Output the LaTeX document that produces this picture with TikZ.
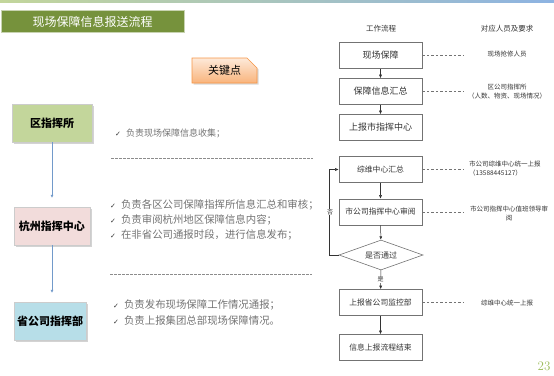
\documentclass[tikz,border=0pt]{standalone}
\usepackage{fontspec}
\newfontfamily\cjk{Noto Sans CJK SC}
\newfontfamily\sym{DejaVu Sans}
\usetikzlibrary{arrows.meta}
\usetikzlibrary{shadows}
\usetikzlibrary{shapes.geometric}
\usetikzlibrary{shapes.misc}
\definecolor{titlegreen}{HTML}{76923C}
\definecolor{zonegreen}{HTML}{C3D69B}
\definecolor{hzpink}{HTML}{F2DCDB}
\definecolor{sgblue}{HTML}{B7DEE8}
\definecolor{keyline}{HTML}{F79646}
\definecolor{keytop}{HTML}{FDE9D9}
\definecolor{keybottom}{HTML}{F9B47C}
\definecolor{unitblue}{HTML}{4F81BD}
\definecolor{pagegreen}{HTML}{9BBB59}
\definecolor{barleft}{HTML}{C3D69B}
\definecolor{barright}{HTML}{8DB3E2}
\newcommand{\chk}{{\sym\fontsize{7}{7}\selectfont\color{black!80}✓}\hspace{5pt}}

\begin{document}
\begin{tikzpicture}[x=1pt, y=-1pt,
  unitbox/.style={minimum height=38pt, inner sep=0pt, draw=white!80!black, line width=0.3pt, font=\cjk\bfseries\fontsize{11}{11}\selectfont, drop shadow={shadow xshift=1.5pt, shadow yshift=-1.5pt, opacity=0.35}},
  unitarrow/.style={-{Latex[length=3pt, width=3pt]}, unitblue!80, line width=0.6pt, shorten >=9pt},
  flowbox/.style={draw=black!55, line width=0.6pt, minimum width=83pt, minimum height=26pt, inner sep=0pt, font=\cjk\fontsize{9}{9}\selectfont, text=black!80},
  smallbox/.style={flowbox, font=\cjk\fontsize{7.8}{7.8}\selectfont},
  flowarrow/.style={-{Latex[length=3.5pt, width=3pt]}, black!80, line width=0.5pt},
  helpline/.style={black!55, line width=0.5pt, dash pattern=on 2.5pt off 2pt},
  note/.style={font=\cjk\fontsize{6.5}{9}\selectfont, text=black!80, inner sep=0pt},
  dutyline/.style={black!45, line width=0.6pt, dash pattern=on 2.5pt off 1.5pt},
  duty/.style={anchor=west, align=left, inner sep=0pt, text=black!55, font=\cjk\fontsize{10.4}{15}\selectfont}]
        \useasboundingbox (0,0) rectangle (554,375);
        \shade [left color=barleft, right color=barright] (0,0) rectangle (554,2);
        \node [fill=titlegreen, draw=titlegreen!40, line width=0.5pt, minimum width=183pt, minimum height=22pt, inner sep=0pt, text=white, font=\cjk\fontsize{12}{12}\selectfont] (title) at (92.5,21.5) {现场保障信息报送流程};
        \node [chamfered rectangle, chamfered rectangle corners=north east, chamfered rectangle xsep=5pt, chamfered rectangle ysep=5pt, top color=keytop, bottom color=keybottom, draw=keyline, line width=0.6pt, minimum width=65pt, minimum height=25pt, inner sep=0pt, font=\cjk\fontsize{11}{11}\selectfont, drop shadow={shadow xshift=1.5pt, shadow yshift=-1.5pt, opacity=0.3}] (keypt) at (224.5,70.5) {关键点};

        \node [unitbox, fill=zonegreen, minimum width=80pt] (zone) at (52,123) {区指挥所};
        \node [unitbox, fill=hzpink, minimum width=76pt] (hz) at (52,226) {杭州指挥中心};
        \node [unitbox, fill=sgblue, minimum width=72pt] (sg) at (50,321) {省公司指挥部};
        \draw [unitarrow] (zone.south) -- (zone.south |- hz.north);
        \draw [unitarrow] (hz.south) -- (hz.south |- sg.north);

        \node [duty, font=\cjk\fontsize{9}{9}\selectfont] (duty1) at (115,133) {\chk 负责现场保障信息收集；};
        \draw [dutyline] (111,158) -- (313,158);
        \node [duty] (duty2) at (110,220) {\chk 负责各区公司保障指挥所信息汇总和审核；\\ \chk 负责审阅杭州地区保障信息内容；\\ \chk 在非省公司通报时段，进行信息发布；};
        \draw [dutyline] (110,274) -- (312,274);
        \node [duty, font=\cjk\fontsize{10.4}{16}\selectfont] (duty3) at (113,313) {\chk 负责发布现场保障工作情况通报；\\ \chk 负责上报集团总部现场保障情况。};

        \node [note, font=\cjk\fontsize{7.5}{7.5}\selectfont] (hdflow) at (381,29) {工作流程};
        \node [note, font=\cjk\fontsize{7.5}{7.5}\selectfont] (hdreq) at (507,29) {对应人员及要求};
        \node [flowbox] (b1) at (380.5,55.5) {现场保障};
        \node [flowbox] (b2) at (380.5,91.5) {保障信息汇总};
        \node [flowbox] (b3) at (380.5,127.5) {上报市指挥中心};
        \node [smallbox] (b4) at (380.5,169.5) {综维中心汇总};
        \node [smallbox] (b5) at (380.5,212) {市公司指挥中心审阅};
        \node [diamond, aspect=2.8, draw=black!55, line width=0.6pt, minimum width=84pt, minimum height=30pt, inner sep=0pt, font=\cjk\fontsize{8}{8}\selectfont, text=black!80] (pass) at (381,255) {是否通过};
        \node [smallbox] (b6) at (380.5,302.5) {上报省公司监控部};
        \node [smallbox] (b7) at (380.5,347.5) {信息上报流程结束};

        \draw [flowarrow] (b1) -- (b2);
        \draw [flowarrow] (b2) -- (b3);
        \draw [flowarrow] (b4) -- (b5);
        \draw [flowarrow] (b5) -- (pass);
        \draw [flowarrow] (pass.west) -- ++(-9,0) |- (b4.west);
        \node [fill=white, inner sep=0.8pt, font=\cjk\fontsize{6}{6}\selectfont, text=black!80] (nolab) at (330,212) {否};
        \draw [flowarrow] (pass) -- node [fill=white, inner sep=0.5pt, font=\cjk\fontsize{6}{6}\selectfont, text=black!80] (yeslab) {是} (b6);
        \draw [flowarrow] (b6) -- (b7);

        \draw [helpline] (b1.east) -- ++(42,0);
        \draw [helpline] (b2.east) -- ++(42,0);
        \draw [helpline] (b4.east) -- ++(42,0);
        \draw [helpline] (b5.east) -- ++(42,0);
        \draw [helpline] (b6.east) -- ++(42,0);
        \node [note] (req1) at (507,54) {现场抢修人员};
        \node [note, align=center] (req2) at (507,92) {区公司指挥所\\（人数、物资、现场情况）};
        \node [note, align=left, anchor=west] (req4) at (469,169) {市公司综维中心统一上报\\（13588445127）};
        \node [note, align=center] (req5) at (509,213) {市公司指挥中心值班领导审\\阅};
        \node [note] (req6) at (507,303) {综维中心统一上报};

        \node [text=pagegreen, font=\fontsize{13}{13}\selectfont] (pagenum) at (544,366) {23};
      \end{tikzpicture}
\end{document}
